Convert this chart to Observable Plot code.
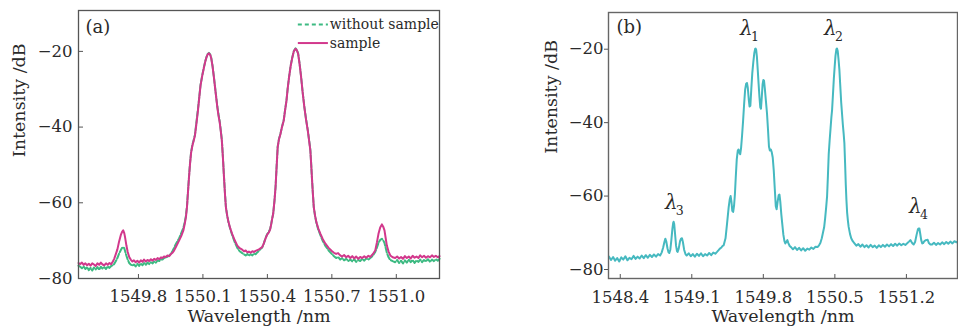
<!DOCTYPE html>
<html><head><meta charset="utf-8">
<script src="https://cdn.jsdelivr.net/npm/d3@7"></script>
<script src="https://cdn.jsdelivr.net/npm/@observablehq/plot@0.6"></script>
<style>
body{margin:0;background:#fff;}
#wrap{position:relative;width:958px;height:328px;overflow:hidden;background:#fff;}
#pa{position:absolute;left:0;top:0;}
#pb{position:absolute;left:500px;top:0;}
</style></head><body><div id="wrap"><div id="pa"></div><div id="pb"></div></div>
<script>
// ---------- Panel (a) data ----------
const aWave = [
1549.521,1549.529,1549.537,1549.545,1549.553,1549.561,1549.569,1549.577,1549.585,1549.593,
1549.601,1549.609,1549.617,1549.625,1549.633,1549.641,1549.649,1549.657,1549.665,1549.673,
1549.681,1549.687,1549.695,1549.702,1549.710,1549.718,1549.724,1549.729,1549.734,1549.738,
1549.744,1549.750,1549.757,1549.764,1549.772,1549.779,1549.787,1549.795,1549.803,1549.811,
1549.819,1549.826,1549.834,1549.842,1549.850,1549.858,1549.866,1549.873,1549.881,1549.889,
1549.897,1549.905,1549.912,1549.919,1549.928,1549.935,1549.943,1549.950,1549.958,1549.965,
1549.973,1549.981,1549.989,1549.999,1550.009,1550.015,1550.021,1550.026,1550.030,1550.035,
1550.040,1550.045,1550.051,1550.057,1550.063,1550.070,1550.077,1550.083,1550.089,1550.097,
1550.105,1550.111,1550.117,1550.122,1550.128,1550.134,1550.139,1550.145,1550.151,1550.159,
1550.167,1550.172,1550.178,1550.183,1550.188,1550.193,1550.198,1550.203,1550.207,1550.213,
1550.219,1550.228,1550.236,1550.248,1550.260,1550.271,1550.283,1550.291,1550.299,1550.307,
1550.314,1550.322,1550.330,1550.338,1550.345,1550.353,1550.361,1550.368,1550.376,1550.383,
1550.391,1550.399,1550.407,1550.413,1550.418,1550.423,1550.427,1550.433,1550.438,1550.443,
1550.448,1550.454,1550.461,1550.468,1550.476,1550.482,1550.489,1550.495,1550.501,1550.508,
1550.515,1550.523,1550.531,1550.537,1550.543,1550.550,1550.557,1550.564,1550.572,1550.580,
1550.588,1550.594,1550.600,1550.604,1550.608,1550.612,1550.616,1550.622,1550.628,1550.637,
1550.647,1550.658,1550.670,1550.685,1550.701,1550.710,1550.720,1550.729,1550.739,1550.748,
1550.757,1550.767,1550.776,1550.786,1550.795,1550.804,1550.813,1550.823,1550.832,1550.841,
1550.851,1550.860,1550.870,1550.879,1550.887,1550.895,1550.902,1550.910,1550.917,1550.925,
1550.933,1550.939,1550.945,1550.951,1550.956,1550.964,1550.972,1550.983,1550.995,1551.004,
1551.013,1551.022,1551.031,1551.040,1551.049,1551.058,1551.067,1551.076,1551.085,1551.094,
1551.103,1551.111,1551.120,1551.129,1551.138,1551.147,1551.157,1551.166,1551.175,1551.184,
1551.193,1551.201];
const aSample = [
-75.9,-76.2,-75.8,-76.4,-76.0,-76.5,-76.1,-76.6,-76.0,-76.3,
-76.7,-76.0,-76.4,-75.8,-76.3,-76.5,-76.0,-76.4,-75.9,-76.2,
-75.5,-74.8,-73.5,-72.3,-70.2,-68.5,-67.7,-67.3,-68.0,-69.2,
-71.3,-73.0,-74.3,-75.0,-75.5,-75.2,-75.7,-75.3,-75.8,-75.2,
-75.6,-75.0,-75.5,-75.1,-75.4,-74.9,-75.3,-74.8,-75.1,-74.6,
-74.9,-74.4,-74.6,-74.2,-74.3,-73.9,-74.1,-73.6,-73.2,-72.7,
-71.8,-70.9,-70.0,-68.8,-67.3,-65.7,-63.8,-61.0,-57.6,-53.5,
-49.7,-46.8,-44.9,-43.6,-42.2,-39.0,-35.6,-32.2,-29.0,-26.4,
-24.2,-22.7,-21.5,-20.8,-20.5,-20.9,-21.9,-24.0,-26.8,-30.8,
-34.7,-36.8,-38.7,-41.0,-43.5,-48.0,-53.2,-58.0,-61.2,-63.4,
-65.1,-66.9,-68.2,-69.9,-71.3,-72.0,-72.4,-72.8,-72.6,-73.1,
-72.9,-73.2,-72.8,-73.0,-72.7,-72.5,-72.3,-72.0,-71.7,-70.8,
-69.5,-68.4,-67.8,-67.0,-65.6,-64.0,-62.9,-59.5,-55.9,-50.5,
-45.3,-43.2,-41.8,-40.0,-38.3,-35.7,-33.0,-29.6,-26.8,-24.0,
-21.9,-20.0,-19.3,-19.7,-20.6,-23.4,-26.8,-30.8,-34.7,-38.0,
-40.9,-43.5,-46.2,-50.0,-54.1,-57.8,-61.2,-63.4,-65.1,-66.8,
-68.2,-69.6,-70.8,-71.9,-72.8,-73.2,-73.5,-73.3,-73.9,-74.2,
-73.8,-74.4,-74.0,-74.6,-74.1,-74.7,-74.2,-74.8,-74.3,-74.6,
-74.1,-74.5,-74.0,-74.3,-73.8,-73.2,-72.6,-70.4,-68.2,-66.5,
-65.7,-66.3,-67.3,-69.5,-71.3,-72.9,-73.9,-74.4,-74.6,-74.2,
-74.7,-74.3,-74.8,-74.1,-74.6,-74.2,-74.7,-74.0,-74.5,-74.2,
-74.6,-73.9,-74.4,-74.0,-74.5,-74.1,-74.4,-73.9,-74.3,-74.0,
-74.4,-74.1];
const aWithout = [
-76.6,-76.9,-77.3,-76.8,-77.5,-77.0,-77.8,-77.2,-77.9,-77.1,
-77.6,-77.0,-77.7,-76.9,-77.4,-77.0,-77.5,-76.8,-77.2,-76.7,
-76.5,-76.2,-75.4,-74.6,-73.4,-72.5,-71.9,-71.7,-72.0,-72.8,
-74.0,-75.0,-75.9,-76.3,-76.6,-76.3,-76.8,-76.1,-76.7,-76.0,
-76.5,-75.9,-76.4,-75.8,-76.2,-75.7,-76.0,-75.5,-75.8,-75.2,
-75.4,-74.9,-75.0,-74.6,-74.5,-74.2,-74.0,-73.5,-72.8,-72.0,
-71.0,-70.2,-69.4,-68.0,-66.6,-65.2,-63.4,-60.8,-57.4,-53.3,
-49.5,-46.6,-44.7,-43.4,-42.0,-38.6,-35.2,-32.0,-28.8,-26.3,
-24.1,-22.6,-21.4,-20.7,-20.4,-20.8,-21.8,-23.9,-26.7,-30.6,
-34.5,-36.4,-38.4,-40.8,-43.3,-47.8,-53.0,-57.8,-61.1,-63.4,
-65.2,-67.1,-68.5,-70.4,-71.9,-72.8,-73.3,-73.6,-73.9,-73.5,
-74.0,-73.6,-73.9,-73.4,-73.6,-73.1,-72.7,-72.2,-71.8,-70.8,
-69.4,-68.3,-67.6,-66.9,-65.5,-64.0,-62.9,-59.5,-55.9,-50.4,
-45.2,-43.1,-41.7,-39.9,-38.2,-35.6,-32.9,-29.5,-26.7,-23.9,
-21.8,-19.9,-19.2,-19.6,-20.5,-23.3,-26.7,-30.7,-34.6,-37.9,
-40.8,-43.3,-46.0,-49.9,-54.0,-57.8,-61.2,-63.5,-65.3,-67.1,
-68.6,-70.1,-71.4,-72.6,-73.6,-74.1,-74.6,-74.3,-75.0,-74.6,
-75.2,-74.8,-75.4,-75.0,-75.5,-74.9,-75.6,-75.1,-75.4,-74.8,
-75.3,-74.7,-75.0,-74.6,-74.2,-73.6,-73.0,-71.8,-70.6,-69.8,
-69.5,-69.9,-70.6,-72.0,-73.2,-74.4,-75.1,-75.4,-75.7,-75.1,
-75.9,-75.3,-76.0,-75.2,-75.8,-75.0,-75.7,-75.1,-75.9,-75.2,
-75.6,-75.0,-75.7,-75.1,-75.5,-74.9,-75.6,-75.0,-75.4,-74.9,
-75.3,-74.8];
const aXTicks = [1549.8, 1550.1, 1550.4, 1550.7, 1551.0];
const aYTicks = [-80, -60, -40, -20];
const aLegend = ["without sample", "sample"];

// ---------- Panel (b) data ----------
const bWave = [
1548.29,1548.31,1548.33,1548.35,1548.37,1548.39,1548.41,1548.43,1548.45,1548.47,
1548.49,1548.51,1548.53,1548.55,1548.57,1548.59,1548.61,1548.63,1548.65,1548.67,
1548.69,1548.71,1548.73,1548.75,1548.77,1548.79,1548.805,1548.82,1548.832,1548.841,
1548.850,1548.862,1548.872,1548.880,1548.890,1548.900,1548.910,1548.918,1548.922,1548.928,
1548.936,1548.946,1548.955,1548.961,1548.972,1548.985,1548.995,1549.004,1549.013,1549.025,
1549.038,1549.05,1549.07,1549.09,1549.11,1549.13,1549.15,1549.17,1549.19,1549.21,
1549.23,1549.25,1549.27,1549.29,1549.31,1549.33,1549.347,1549.36,1549.375,1549.39,
1549.40,1549.412,1549.430,1549.445,1549.461,1549.472,1549.480,1549.488,1549.496,1549.505,
1549.514,1549.522,1549.530,1549.540,1549.550,1549.558,1549.566,1549.574,1549.582,1549.592,
1549.602,1549.612,1549.622,1549.632,1549.640,1549.648,1549.657,1549.665,1549.673,1549.682,
1549.692,1549.702,1549.712,1549.720,1549.725,1549.730,1549.737,1549.745,1549.754,1549.762,
1549.770,1549.777,1549.785,1549.793,1549.800,1549.807,1549.815,1549.825,1549.836,1549.846,
1549.855,1549.864,1549.873,1549.882,1549.892,1549.902,1549.912,1549.922,1549.930,1549.940,
1549.950,1549.958,1549.966,1549.976,1549.986,1549.996,1550.006,1550.015,1550.025,1550.035,
1550.045,1550.058,1550.071,1550.09,1550.11,1550.13,1550.15,1550.17,1550.19,1550.21,
1550.23,1550.25,1550.27,1550.29,1550.31,1550.33,1550.345,1550.358,1550.372,1550.385,
1550.395,1550.405,1550.415,1550.424,1550.432,1550.440,1550.449,1550.458,1550.466,1550.473,
1550.481,1550.490,1550.498,1550.506,1550.515,1550.521,1550.528,1550.536,1550.544,1550.552,
1550.562,1550.570,1550.578,1550.586,1550.593,1550.600,1550.607,1550.613,1550.620,1550.628,
1550.635,1550.648,1550.66,1550.675,1550.69,1550.71,1550.73,1550.75,1550.77,1550.79,
1550.81,1550.83,1550.85,1550.87,1550.89,1550.91,1550.93,1550.95,1550.97,1550.99,
1551.01,1551.03,1551.05,1551.07,1551.09,1551.11,1551.13,1551.15,1551.17,1551.19,
1551.21,1551.225,1551.239,1551.252,1551.263,1551.271,1551.285,1551.300,1551.313,1551.320,
1551.327,1551.335,1551.345,1551.355,1551.363,1551.375,1551.390,1551.408,1551.420,1551.435,
1551.451,1551.47,1551.49,1551.51,1551.53,1551.55,1551.57,1551.59,1551.61,1551.63,
1551.65,1551.67,1551.69,1551.70];
const bIntensity = [
-76.5,-77.4,-76.6,-77.6,-76.9,-77.8,-76.7,-77.3,-76.4,-77.5,
-76.8,-77.2,-76.3,-77.1,-76.5,-77.0,-76.2,-76.9,-76.1,-76.8,
-76.0,-76.6,-75.9,-76.5,-75.8,-76.2,-75.4,-74.0,-72.5,-71.6,
-72.3,-74.2,-75.3,-75.5,-74.6,-72.0,-69.0,-67.3,-67.0,-67.6,
-70.2,-73.5,-75.0,-75.2,-74.3,-72.3,-71.6,-71.5,-72.5,-74.6,
-75.8,-76.2,-75.6,-76.4,-75.8,-76.5,-75.7,-76.3,-75.6,-76.4,
-75.8,-76.2,-75.5,-76.1,-75.4,-75.7,-75.2,-74.8,-74.3,-74.0,
-73.6,-73.4,-71.5,-67.5,-63.0,-60.8,-60.0,-61.5,-64.0,-64.3,
-62.5,-59.5,-55.0,-50.0,-47.6,-47.3,-48.2,-48.6,-47.0,-43.5,
-39.5,-35.0,-31.0,-29.4,-29.2,-30.5,-33.5,-35.6,-35.4,-31.0,
-26.5,-23.5,-21.0,-19.9,-19.8,-20.2,-22.0,-25.5,-29.5,-33.0,
-35.8,-36.2,-33.0,-29.5,-28.4,-28.6,-30.8,-34.0,-37.5,-42.0,
-46.5,-47.6,-47.3,-48.0,-49.5,-53.0,-58.0,-62.8,-63.6,-61.5,
-59.8,-59.6,-61.5,-65.0,-67.8,-70.5,-72.2,-72.9,-72.5,-72.0,
-72.8,-73.6,-73.9,-74.5,-73.9,-74.7,-74.1,-74.8,-74.2,-74.9,
-74.3,-74.6,-74.0,-74.4,-73.8,-73.9,-73.4,-72.8,-71.5,-69.8,
-68.5,-66.0,-63.0,-60.0,-54.5,-48.5,-44.8,-41.5,-38.5,-36.5,
-32.5,-28.0,-24.8,-21.8,-20.0,-19.8,-20.5,-22.8,-25.5,-29.5,
-34.5,-37.5,-40.5,-43.0,-45.5,-51.0,-57.0,-61.0,-64.5,-66.8,
-68.4,-70.3,-71.5,-72.3,-72.8,-73.5,-73.1,-73.8,-73.2,-73.9,
-73.4,-74.0,-73.3,-73.9,-73.5,-74.1,-73.4,-73.9,-73.3,-73.8,
-73.2,-73.7,-73.1,-73.6,-73.0,-73.5,-72.9,-73.4,-73.0,-73.3,
-72.8,-72.4,-72.0,-72.6,-73.0,-73.2,-72.5,-70.5,-69.0,-68.8,
-68.8,-70.2,-72.0,-72.9,-72.8,-72.3,-72.0,-71.9,-72.8,-73.2,
-73.2,-72.7,-73.3,-72.8,-73.2,-72.6,-73.1,-72.5,-73.0,-72.4,
-72.9,-72.3,-72.6,-72.4];
const bXTicks = [1548.4, 1549.1, 1549.8, 1550.5, 1551.2];
const bYTicks = [-80, -60, -40, -20];
const peakNames = ["λ", "λ", "λ", "λ"];
const peakSubs = ["1", "2", "3", "4"];
const peakWave = [1549.634, 1550.456, 1548.899, 1551.288];
const peakLevel = [-14.5, -14.5, -61.8, -62.9];

if (aWave.length !== aSample.length || aWave.length !== aWithout.length) throw new Error("panel a length mismatch " + [aWave.length, aSample.length, aWithout.length]);
if (bWave.length !== bIntensity.length) throw new Error("panel b length mismatch " + [bWave.length, bIntensity.length]);

const MAGENTA = "#d2388c", GREEN = "#3dba82", CYAN = "#46b9c0";
const FONT = "'DejaVu Serif', serif";
const style = {fontFamily: FONT, fontSize: "16.5px", background: "transparent", color: "#2a2a2a", overflow: "visible"};

const tableA = aWave.map((w, i) => ({w, s: aSample[i], n: aWithout[i]}));
const tableB = bWave.map((w, i) => ({w, v: bIntensity[i]}));

const chartA = Plot.plot({
  width: 460, height: 328, marginLeft: 78, marginRight: 21, marginTop: 10, marginBottom: 50,
  style,
  x: {domain: [1549.521, 1551.201], label: null},
  y: {domain: [-80, -9.2], label: null},
  marks: [
    Plot.line(tableA, {x: "w", y: "n", stroke: GREEN, strokeWidth: 2, strokeDasharray: "5,2"}),
    Plot.line(tableA, {x: "w", y: "s", stroke: MAGENTA, strokeWidth: 2}),
    Plot.frame({stroke: "#555", strokeWidth: 1.3}),
    Plot.axisX({ticks: aXTicks, tickSize: -4, tickPadding: 16, tickFormat: d3.format(".1f"), label: null, stroke: "#555"}),
    Plot.axisY({ticks: aYTicks, tickSize: -5, tickPadding: 11, tickFormat: d3.format("d"), label: null, stroke: "#555"}),
    Plot.text(["Wavelength /nm"], {frameAnchor: "bottom", lineAnchor: "top", dy: 31, fontSize: 17.5}),
    Plot.text(["Intensity /dB"], {frameAnchor: "left", rotate: -90, dx: -59, dy: 12.7, fontSize: 17.5, lineAnchor: "middle"}),
    Plot.text(["(a)"], {frameAnchor: "top-left", textAnchor: "start", lineAnchor: "middle", dx: 7, dy: 16.7, fontSize: 18}),
    Plot.ruleY([-12.9], {x1: 1550.544, x2: 1550.684, stroke: GREEN, strokeWidth: 2, strokeDasharray: "4,3"}),
    Plot.ruleY([-17.8], {x1: 1550.544, x2: 1550.684, stroke: MAGENTA, strokeWidth: 2}),
    Plot.text(aLegend, {x: () => 1550.69, y: (d, i) => [-12.9, -17.8][i], textAnchor: "start", lineAnchor: "middle", fontSize: 14})
  ]
});
document.getElementById("pa").append(chartA);

const chartB = Plot.plot({
  width: 458, height: 328, marginLeft: 108, marginRight: 1, marginTop: 12, marginBottom: 50,
  style,
  x: {domain: [1548.285, 1551.70], label: null},
  y: {domain: [-82.45, -10], label: null},
  marks: [
    Plot.line(tableB, {x: "w", y: "v", stroke: CYAN, strokeWidth: 2}),
    Plot.frame({stroke: "#666", strokeWidth: 1.4}),
    Plot.axisX({ticks: bXTicks, tickSize: -4, tickPadding: 17, tickFormat: d3.format(".1f"), label: null, stroke: "#555"}),
    Plot.axisY({ticks: bYTicks, tickSize: 4, tickPadding: 1, tickFormat: d3.format("d"), label: null, stroke: "#555"}),
    Plot.text(["Wavelength /nm"], {frameAnchor: "bottom", lineAnchor: "top", dy: 31, fontSize: 17.5}),
    Plot.text(["Intensity /dB"], {frameAnchor: "left", rotate: -90, dx: -57, dy: 8.3, fontSize: 17.5, lineAnchor: "middle"}),
    Plot.text(["(b)"], {frameAnchor: "top-left", textAnchor: "start", lineAnchor: "middle", dx: 8, dy: 14.7, fontSize: 18}),
    Plot.text(peakNames, {x: (d, i) => peakWave[i], y: (d, i) => peakLevel[i], fontStyle: "italic", fontSize: 20, lineAnchor: "middle"}),
    Plot.text(peakSubs, {x: (d, i) => peakWave[i], y: (d, i) => peakLevel[i], dx: 8.5, dy: 8, fontSize: 12.5, lineAnchor: "middle"})
  ]
});
document.getElementById("pb").append(chartB);
</script>
</body></html>
